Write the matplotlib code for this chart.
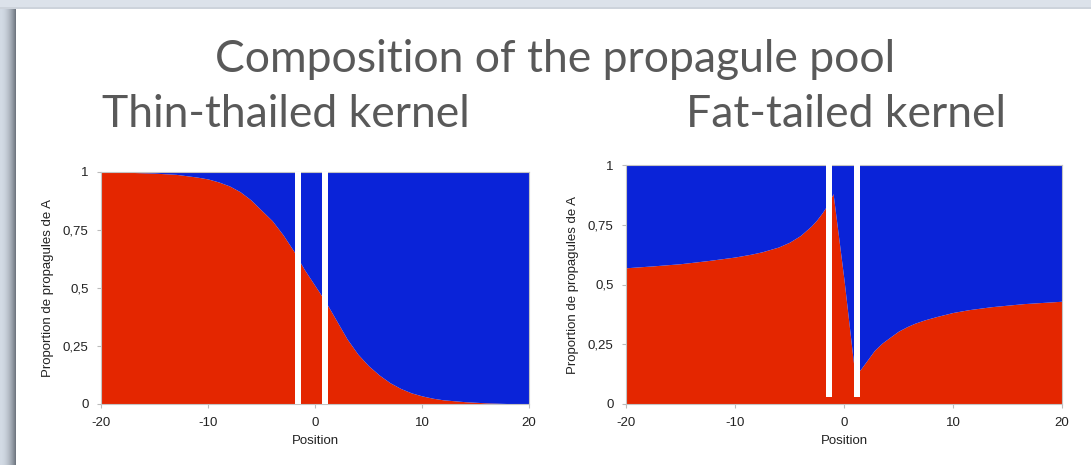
import numpy as np
import matplotlib
matplotlib.use('Agg')
import matplotlib.pyplot as plt
from matplotlib.patches import Rectangle

# proportion of propagules of A along the position axis
x_thin = [-20, -17, -15, -13, -11, -10, -9, -8, -7, -6, -5, -4, -3, -2, -1, 0, 1, 2, 3, 4,
          5, 6, 7, 8, 9, 10, 11, 12, 14, 16, 18, 20]
p_thin = [1.0, 0.998, 0.995, 0.99, 0.978, 0.97, 0.957, 0.94, 0.915, 0.88, 0.835, 0.79,
          0.73, 0.66, 0.58, 0.51, 0.44, 0.36, 0.28, 0.215, 0.165, 0.125, 0.092, 0.067,
          0.048, 0.035, 0.025, 0.018, 0.01, 0.005, 0.002, 0.0]

x_fat = [-20, -17.5, -15, -12.5, -10, -8.5, -7.5, -6, -5, -4, -3, -2.5, -2, -1.5, -1.0,
         0.0, 0.9, 1.47, 2.0, 2.8, 3.5, 4.3, 5, 5.8, 6.5, 7.4, 8.5, 10, 11.5, 13.5, 16.5, 20]
p_fat = [0.57, 0.578, 0.587, 0.60, 0.615, 0.627, 0.637, 0.657, 0.677, 0.705, 0.745, 0.77,
         0.80, 0.835, 0.88, 0.52, 0.16, 0.142, 0.175, 0.225, 0.255, 0.282, 0.305, 0.324,
         0.338, 0.352, 0.366, 0.383, 0.395, 0.407, 0.42, 0.43]

# white separators drawn over the plots
gaps_thin = [(-1.85, -1.3), (0.65, 1.2)]
gaps_fat = [(-1.65, -1.1), (0.9, 1.47)]

yticks = [0, 0.25, 0.5, 0.75, 1]
ytick_labels = ['0', '0,25', '0,5', '0,75', '1']
xticks = [-20, -10, 0, 10, 20]

title = 'Composition of the propagule pool'
sub_left = 'Thin-thailed kernel'
sub_right = 'Fat-tailed kernel'

RED = '#E42600'
BLUE = '#0A23D8'
W, H = 1091, 465

plt.rcParams['font.family'] = ['Liberation Sans', 'DejaVu Sans']
plt.rcParams['axes.unicode_minus'] = False
fig = plt.figure(figsize=(W / 100, H / 100), dpi=100)
fig.patch.set_facecolor('white')

# slide background: bluish strip on top, shadowed strip on the left
bg = fig.add_axes([0, 0, 1, 1], zorder=-5)
bg.set_xlim(0, W)
bg.set_ylim(H, 0)
bg.axis('off')
bg.add_patch(Rectangle((0, 0), W, 9, color='#DCE2EA', lw=0))
bg.add_patch(Rectangle((0, 7), W, 2, color='#CDD3DB', lw=0))
c0 = np.array([0xD2, 0xDA, 0xE4]) / 255
c1 = np.array([0x70, 0x77, 0x81]) / 255
for i in range(16):
    t = (i / 15) ** 2
    bg.add_patch(Rectangle((i, 9), 1.05, H, color=c0 * (1 - t) + c1 * t, lw=0))


def panel(rect, xs, ps, gaps, gap_lo, gap_hi):
    ax = fig.add_axes(rect)
    ax.fill_between(xs, 0, ps, color=RED, lw=0)
    ax.fill_between(xs, ps, 1, color=BLUE, lw=0)
    for a, b in gaps:
        ax.axvspan(a, b, ymin=gap_lo, ymax=gap_hi, color='white', lw=0, zorder=3, clip_on=False)
    ax.set_xlim(-20, 20)
    ax.set_ylim(0, 1)
    ax.set_xticks(xticks)
    ax.set_yticks(yticks)
    ax.set_yticklabels(ytick_labels)
    ax.tick_params(labelsize=9.5, colors='#BBBBBB', labelcolor='#222222', length=3, width=0.8, pad=6)
    for s in ax.spines.values():
        s.set_color('#C4C4C4')
        s.set_linewidth(0.8)
    ax.set_xlabel('Position', fontsize=9.5, color='#222222', labelpad=5)
    ax.set_ylabel('Proportion de propagules de A', fontsize=9.5, color='#222222', labelpad=6)
    return ax


ax1 = panel([101 / W, 1 - 404 / H, 428 / W, 232 / H], x_thin, p_thin, gaps_thin, 0, 1.0)
ax2 = panel([626 / W, 1 - 404 / H, 436 / W, 239 / H], x_fat, p_fat, gaps_fat, 0.03, 1.02)

font_title = dict(color='#595959', ha='center', va='baseline',
                  family=['Lato', 'DejaVu Sans'])
fig.text(555 / W, 1 - 72 / H, title, fontsize=32, **font_title)
fig.text(286 / W, 1 - 127 / H, sub_left, fontsize=32, **font_title)
fig.text(846 / W, 1 - 127 / H, sub_right, fontsize=32, **font_title)

fig.savefig('out.png', dpi=100)
